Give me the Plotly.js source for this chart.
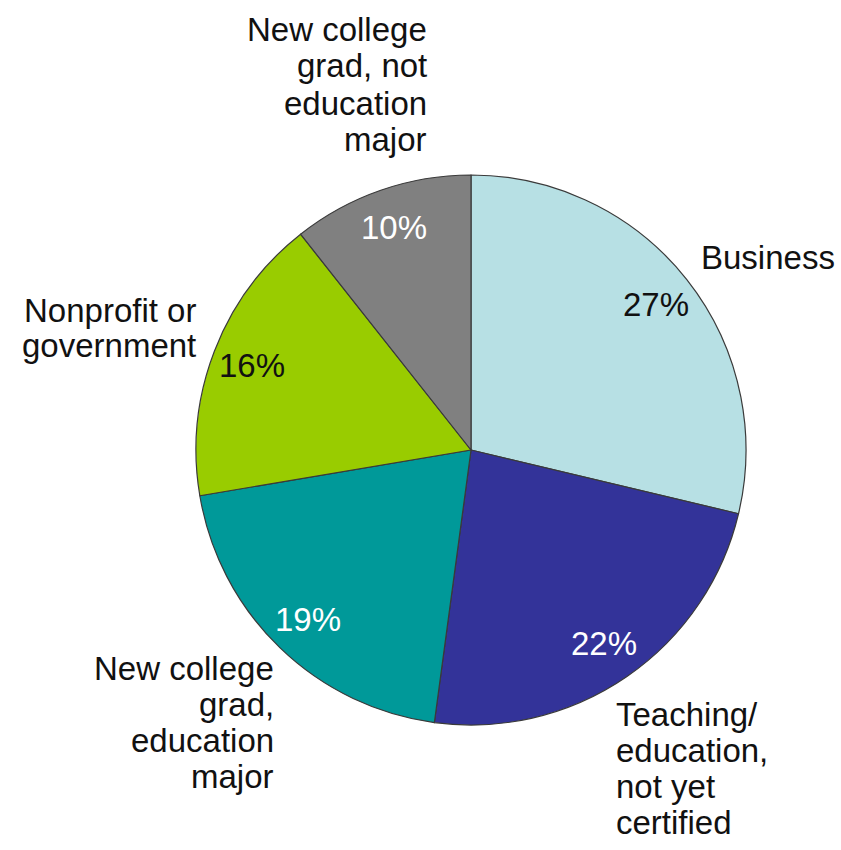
<!DOCTYPE html>
<html>
<head>
<meta charset="utf-8">
<script src="https://cdn.plot.ly/plotly-3.0.1.min.js"></script>
<style>html,body{margin:0;padding:0;background:#fff;}#chart{width:841px;height:850px;}</style>
</head>
<body>
<div id="chart"></div>
<script>
// Data
const categories = ["Business", "Teaching/education, not yet certified", "New college grad, education major", "Nonprofit or government", "New college grad, not education major"];
const values = [27, 22, 19, 16, 10];
const pctLabels = ["27%", "22%", "19%", "16%", "10%"];
const labelLines = [
  ["Business"],
  ["Teaching/", "education,", "not yet", "certified"],
  ["New college", "grad,", "education", "major"],
  ["Nonprofit or", "government"],
  ["New college", "grad, not", "education", "major"]
];

// Styles
const colors = ["#B7E0E4", "#333399", "#009999", "#99CC00", "#808080"];
const pctColors = ["#111111", "#ffffff", "#ffffff", "#111111", "#ffffff"];
const W = 841, H = 850;
const CX = 471, CY = 450, R = 275;
// label placement (pixels): anchor x, first line centre y, alignment, line spacing
const labelPlace = [
  {x: 699, y: 257, align: "left", dy: 37},
  {x: 614, y: 714, align: "left", dy: 36},
  {x: 276, y: 668, align: "right", dy: 36},
  {x: 198, y: 310, align: "right", dy: 36},
  {x: 429, y: 29, align: "right", dy: 37}
];
const FONT = "Liberation Sans, Arial, sans-serif";

const trace = {
  type: "pie",
  labels: categories,
  values: values,
  sort: false,
  direction: "clockwise",
  rotation: 0,
  textinfo: "none",
  hoverinfo: "label+value",
  marker: {colors: colors, line: {color: "#3a3a3a", width: 1.2}},
  domain: {x: [(CX - R) / W, (CX + R) / W], y: [(H - CY - R) / H, (H - CY + R) / H]},
  showlegend: false
};

const annotations = [];
const total = values.reduce((a, b) => a + b, 0);
let cum = 0;
values.forEach((v, i) => {
  const mid = (cum + v / 2) / total * 2 * Math.PI;
  cum += v;
  const px = CX + 0.855 * R * Math.sin(mid);
  const py = CY - 0.855 * R * Math.cos(mid);
  annotations.push({
    xref: "paper", yref: "paper", x: px / W, y: 1 - py / H,
    text: pctLabels[i], showarrow: false, xanchor: "center", yanchor: "middle",
    font: {family: FONT, size: 33, color: pctColors[i]}
  });
  const p = labelPlace[i];
  labelLines[i].forEach((line, j) => {
    annotations.push({
      xref: "paper", yref: "paper", x: p.x / W, y: 1 - (p.y + j * p.dy) / H,
      text: line, showarrow: false, xanchor: p.align, yanchor: "middle",
      font: {family: FONT, size: 33, color: "#111111"}
    });
  });
});

const layout = {
  width: W, height: H,
  margin: {l: 0, r: 0, t: 0, b: 0},
  paper_bgcolor: "#ffffff",
  annotations: annotations
};

Plotly.newPlot("chart", [trace], layout, {displayModeBar: false, staticPlot: true});
</script>
</body>
</html>
